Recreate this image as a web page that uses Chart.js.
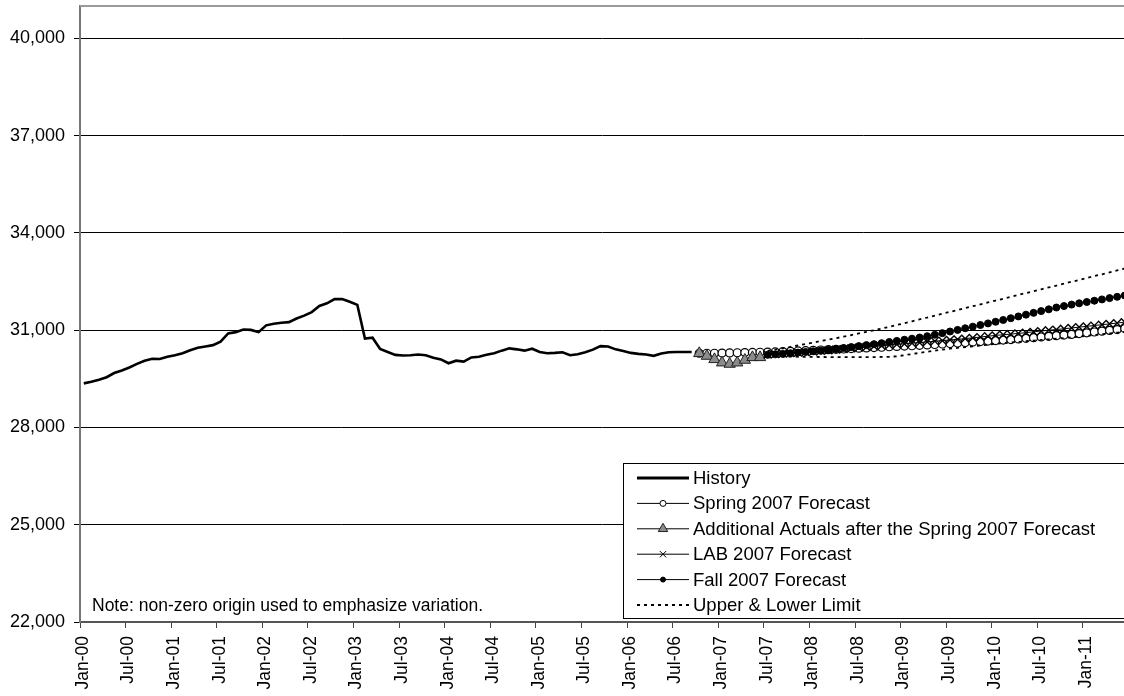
<!DOCTYPE html>
<html><head><meta charset="utf-8">
<script src="https://cdn.jsdelivr.net/npm/chart.js@4.4.0/dist/chart.umd.min.js"></script>
<style>html,body{margin:0;padding:0;background:#fff;overflow:hidden}canvas{display:block}</style>
</head><body>
<canvas id="c" width="1124" height="696"></canvas>
<script>
const FONT = '"Liberation Sans", Arial, sans-serif';

// ---- Tick labels ----
const xTickLabels = ['Jan-00','Jul-00','Jan-01','Jul-01','Jan-02','Jul-02','Jan-03','Jul-03','Jan-04','Jul-04',
  'Jan-05','Jul-05','Jan-06','Jul-06','Jan-07','Jul-07','Jan-08','Jul-08','Jan-09','Jul-09','Jan-10','Jul-10','Jan-11'];
const yTickValues = [22000,25000,28000,31000,34000,37000,40000];

// ---- Series names ----
const seriesNames = ['History','Spring 2007 Forecast','Additional Actuals after the Spring 2007 Forecast',
  'LAB 2007 Forecast','Fall 2007 Forecast','Upper & Lower Limit'];
const noteText = 'Note: non-zero origin used to emphasize variation.';

// ---- Data (month index 0 = Jan-00) ----
const historyStart = 0;
const history = [29360,29410,29470,29550,29680,29760,29850,29960,30060,30120,30110,30180,
  30230,30290,30380,30460,30500,30540,30650,30900,30940,31020,31010,30940,
  31150,31200,31230,31250,31360,31450,31560,31750,31830,31960,31960,31880,
  31780,30740,30770,30420,30330,30240,30220,30230,30250,30230,30150,30100,
  29980,30060,30030,30160,30180,30240,30290,30370,30440,30410,30370,30430,
  30330,30290,30300,30320,30230,30260,30320,30400,30510,30500,30410,30360,
  30300,30270,30250,30210,30280,30320,30330,30330,30330];

const actualsStart = 81;
const actuals = [30287,30204,30101,29998,29957,29998,30081,30163,30163];

const springStart = 81;
const spring = [30290,30290,30290,30295,30300,30305,30310,30315,30320,30325,30330,30340,
  30350,30360,30370,30380,30390,30400,30410,30420,30435,30445,30455,30465,
  30475,30490,30500,30510,30520,30535,30545,30560,30575,30590,30605,30620,
  30635,30650,30665,30680,30695,30710,30730,30750,30770,30790,30810,30830,
  30850,30870,30895,30920,30945,30970,30995,31020,31050];

const labStart = 90;
const lab = [30250,30265,30280,30295,30310,30325,30340,30360,30380,30400,30420,30440,
  30460,30480,30500,30520,30540,30560,30580,30600,30620,30640,30660,30680,
  30700,30720,30740,30765,30790,30815,30840,30860,30880,30900,30925,30950,
  30975,31000,31020,31045,31070,31095,31120,31145,31170,31195,31220,31250];

const fallStart = 90;
const fall = [30240,30255,30270,30290,30310,30330,30350,30370,30395,30420,30450,30480,
  30510,30540,30570,30600,30635,30670,30705,30740,30775,30815,30860,30910,
  30960,31010,31060,31110,31160,31210,31260,31315,31370,31425,31480,31535,
  31590,31645,31700,31745,31790,31830,31870,31910,31950,31990,32030,32070];

const limitStart = 90;
const upper = [30360,30400,30440,30485,30530,30575,30620,30665,30710,30755,30800,30850,
  30900,30950,31000,31050,31105,31160,31218,31276,31334,31392,31450,31508,
  31566,31624,31682,31740,31798,31856,31914,31972,32030,32088,32146,32204,
  32262,32320,32378,32436,32494,32552,32610,32668,32726,32784,32842,32900];
const lower = [30200,30195,30190,30186,30182,30179,30176,30174,30172,30171,30170,30170,
  30170,30170,30172,30175,30180,30195,30230,30265,30300,30335,30370,30400,
  30430,30455,30480,30505,30530,30555,30580,30600,30620,30640,30660,30680,
  30700,30720,30740,30760,30780,30800,30825,30850,30875,30900,30925,30950];

function pts(start, arr){ return arr.map((v,k)=>({x:start+k+0.5, y:v})); }

const lineBase = {borderColor:'#000', fill:false, tension:0, pointHoverRadius:0};
const datasets = [
  Object.assign({}, lineBase, {label:seriesNames[0], data:pts(historyStart,history), borderWidth:2.6, pointRadius:0, order:6}),
  Object.assign({}, lineBase, {label:seriesNames[1], data:pts(springStart,spring), borderWidth:1,
    pointStyle:'circle', pointRadius:4, pointBackgroundColor:'#fff', pointBorderColor:'#000', pointBorderWidth:1.2, order:5}),
  Object.assign({}, lineBase, {label:seriesNames[2], data:pts(actualsStart,actuals), borderWidth:1,
    pointStyle:'triangle', pointRadius:6.5, pointBackgroundColor:'#8c8c8c', pointBorderColor:'#222', pointBorderWidth:1, order:4}),
  Object.assign({}, lineBase, {label:seriesNames[3], data:pts(labStart,lab), borderWidth:1,
    pointStyle:'crossRot', pointRadius:5.5, pointBorderColor:'#000', pointBorderWidth:1.4, order:3}),
  Object.assign({}, lineBase, {label:seriesNames[4], data:pts(fallStart,fall), borderWidth:1,
    pointStyle:'circle', pointRadius:3.5, pointBackgroundColor:'#000', pointBorderColor:'#000', pointBorderWidth:1, order:2}),
  Object.assign({}, lineBase, {label:seriesNames[5], data:pts(limitStart,upper), borderWidth:1.8, borderDash:[3,4], pointRadius:0, order:1}),
  Object.assign({}, lineBase, {label:seriesNames[5]+' (lower)', data:pts(limitStart,lower), borderWidth:1.8, borderDash:[3,4], pointRadius:0, order:0})
];

const frame = {
  id:'frame',
  afterDraw(chart){
    const {ctx, chartArea:a} = chart;
    ctx.save();
    // top border
    ctx.strokeStyle = '#9a9a9a'; ctx.lineWidth = 2;
    ctx.beginPath(); ctx.moveTo(a.left, a.top); ctx.lineTo(a.right, a.top); ctx.stroke();
    // note
    ctx.fillStyle = '#000'; ctx.font = '17.5px ' + FONT; ctx.textBaseline = 'alphabetic'; ctx.textAlign = 'left';
    ctx.fillText(noteText, a.left + 12, a.bottom - 11);
    // legend box
    const bx = 623.5, by = 463.5, bw = 520, bh = 155;
    ctx.fillStyle = '#fff'; ctx.fillRect(bx, by, bw, bh);
    ctx.strokeStyle = '#000'; ctx.lineWidth = 1; ctx.strokeRect(bx, by, bw, bh);
    const rowY = [478, 503.4, 528.8, 554.2, 579.6, 605];
    const markerR = [0,3,5.5,4.5,2.5,0];
    [0,1,2,3,4,5].forEach((di, r) => {
      const ds = chart.data.datasets[di];
      const y = rowY[r];
      ctx.save();
      ctx.strokeStyle = '#000';
      ctx.lineWidth = di === 0 ? 3 : (di === 5 ? 1.8 : 1);
      ctx.setLineDash(di === 5 ? [3,4] : []);
      ctx.beginPath(); ctx.moveTo(637, y); ctx.lineTo(689, y); ctx.stroke();
      ctx.setLineDash([]);
      if (markerR[r] > 0) {
        ctx.fillStyle = ds.pointBackgroundColor || '#000';
        ctx.strokeStyle = ds.pointBorderColor || '#000';
        ctx.lineWidth = 1;
        Chart.helpers.drawPoint(ctx, {pointStyle: ds.pointStyle, radius: markerR[r], borderWidth: 1, rotation: 0}, 663, y);
      }
      ctx.restore();
      ctx.fillStyle = '#000'; ctx.font = '18.5px ' + FONT; ctx.textBaseline = 'middle'; ctx.textAlign = 'left';
      ctx.fillText(seriesNames[r], 693, y + 1);
    });
    ctx.restore();
  }
};

new Chart(document.getElementById('c'), {
  type: 'line',
  data: {datasets},
  options: {
    responsive: false, animation: false, devicePixelRatio: 1,
    layout: {autoPadding: false, padding: {top: 6, right: 0, left: 0, bottom: 0}},
    plugins: {legend: {display: false}, tooltip: {enabled: false}},
    scales: {
      x: {
        type: 'linear', min: 0, max: 137.4,
        afterBuildTicks: s => { s.ticks = xTickLabels.map((l,k) => ({value: k*6})); },
        afterFit: s => { s.height = 74; s.paddingRight = 0; s.paddingLeft = 0; },
        ticks: {autoSkip: false, minRotation: 90, maxRotation: 90, padding: 8, labelOffset: 3,
          color: '#000', font: {family: FONT, size: 17.5},
          callback: v => xTickLabels[Math.round(v/6)]},
        grid: {drawOnChartArea: false, tickLength: 6, color: '#444', lineWidth: 1},
        border: {color: '#555', width: 2}
      },
      y: {
        type: 'linear', min: 22000, max: 41000,
        afterBuildTicks: s => { s.ticks = yTickValues.map(v => ({value: v})); },
        afterFit: s => { s.width = 80; s.paddingTop = 0; s.paddingBottom = 0; },
        ticks: {padding: 9, color: '#000', font: {family: FONT, size: 18},
          callback: v => v.toLocaleString('en-US')},
        grid: {color: '#000', lineWidth: 1, tickLength: 6, tickColor: '#000'},
        border: {color: '#777', width: 2}
      }
    }
  },
  plugins: [frame]
});
</script>
</body></html>
